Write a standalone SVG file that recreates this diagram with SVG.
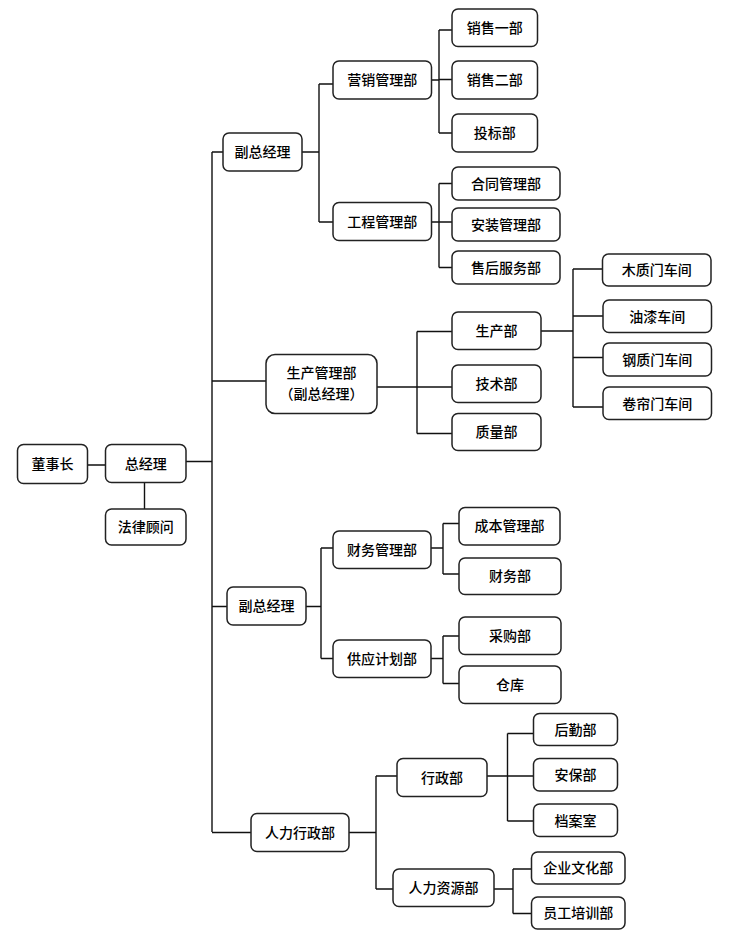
<svg xmlns="http://www.w3.org/2000/svg" width="730" height="938" viewBox="0 0 730 938">
<style>
.b{fill:#fff;stroke:#222;stroke-width:1.5}
.t{font-family:"Noto Sans CJK SC","Noto Sans",sans-serif;font-size:14px;fill:#000;text-anchor:middle;font-weight:500}
.c{fill:none;stroke:#111;stroke-width:1.4}
</style>
<rect width="730" height="938" fill="#fff"/>
<g id="connectors" class="c">
<path d="M212 152V832M212 152H223M212 381H266M186 461.5H212M212 606.5H227M212 832.5H251M87.5 465H105.5M144.5 482.5V509"/>
<path d="M302 152H319M319 84V222M319 84H333M319 222H333"/>
<path d="M431.5 80H439M439 30V133M439 30H452M439 79.5H452M439 133H452"/>
<path d="M431.5 222H439M439 183.5V267.5M439 183.5H452M439 222H452M439 267.5H452"/>
<path d="M377 387H417M417 331.5V433.5M417 331.5H452M417 387H452M417 433.5H452"/>
<path d="M541 331H573M573 269V407M573 269H602.5M573 316H603M573 357.5H603M573 407H603"/>
<path d="M306 606.5H321M321 548V658.5M321 548H333M321 658.5H333"/>
<path d="M431 548H443M443 523.5V574M443 523.5H459M443 574H459"/>
<path d="M431 658.5H443M443 636V683.5M443 636H459M443 683.5H459"/>
<path d="M349 832.5H376M376 776V889M376 776H397M376 889H393"/>
<path d="M487 776H507.5M507.5 733.5V821M507.5 733.5H533.5M507.5 776H533.5M507.5 821H533.5"/>
<path d="M494 889H513M513 869V913.5M513 869H531.5M513 913.5H531.5"/>
</g>
<g id="n_dsz"><rect class="b" x="17.5" y="444.5" width="70" height="39" rx="6"/><text class="t" x="52.5" y="469">董事长</text></g>
<g id="n_zjl"><rect class="b" x="105.5" y="444.5" width="80.5" height="38" rx="6"/><text class="t" x="145.7" y="468.5">总经理</text></g>
<g id="n_flgw"><rect class="b" x="105.5" y="509" width="80.5" height="36" rx="6"/><text class="t" x="145.7" y="532">法律顾问</text></g>
<g id="n_fzjl1"><rect class="b" x="223" y="133" width="79" height="38" rx="6"/><text class="t" x="262.5" y="157">副总经理</text></g>
<g id="n_yxglb"><rect class="b" x="333" y="61" width="98.5" height="38" rx="6"/><text class="t" x="382.2" y="85">营销管理部</text></g>
<g id="n_gcglb"><rect class="b" x="333" y="202.5" width="98.5" height="38" rx="6"/><text class="t" x="382.2" y="226.5">工程管理部</text></g>
<g id="n_xs1"><rect class="b" x="452" y="9" width="85.5" height="37.5" rx="6"/><text class="t" x="494.7" y="32.5">销售一部</text></g>
<g id="n_xs2"><rect class="b" x="452" y="61" width="85.5" height="38" rx="6"/><text class="t" x="494.7" y="85">销售二部</text></g>
<g id="n_tbb"><rect class="b" x="452" y="114" width="85.5" height="38" rx="6"/><text class="t" x="494.7" y="138">投标部</text></g>
<g id="n_htgl"><rect class="b" x="452" y="167" width="108" height="33" rx="6"/><text class="t" x="506" y="188.5">合同管理部</text></g>
<g id="n_azgl"><rect class="b" x="452" y="208" width="108" height="33" rx="6"/><text class="t" x="506" y="229.5">安装管理部</text></g>
<g id="n_shfw"><rect class="b" x="452" y="251" width="108" height="33" rx="6"/><text class="t" x="506" y="272.5">售后服务部</text></g>
<g id="n_scgl"><rect class="b" x="266" y="354.5" width="111" height="59" rx="9"/><text class="t" x="321.5" y="378">生产管理部</text><text class="t" x="321.5" y="399">（副总经理）</text></g>
<g id="n_scb"><rect class="b" x="452" y="312" width="89" height="37.5" rx="6"/><text class="t" x="496.5" y="335.5">生产部</text></g>
<g id="n_jsb"><rect class="b" x="452" y="365" width="89" height="37.5" rx="6"/><text class="t" x="496.5" y="388.5">技术部</text></g>
<g id="n_zlb"><rect class="b" x="452" y="413.5" width="89" height="37" rx="6"/><text class="t" x="496.5" y="437">质量部</text></g>
<g id="n_mzm"><rect class="b" x="602.5" y="254" width="108.5" height="32" rx="6"/><text class="t" x="656.7" y="275">木质门车间</text></g>
<g id="n_yq"><rect class="b" x="603" y="300" width="108.5" height="32.5" rx="6"/><text class="t" x="657.2" y="321.5">油漆车间</text></g>
<g id="n_gzm"><rect class="b" x="603" y="343" width="108.5" height="33" rx="6"/><text class="t" x="657.2" y="364.5">钢质门车间</text></g>
<g id="n_jlm"><rect class="b" x="603" y="387" width="108.5" height="32.5" rx="6"/><text class="t" x="657.2" y="408.5">卷帘门车间</text></g>
<g id="n_fzjl2"><rect class="b" x="227" y="587" width="79" height="38" rx="6"/><text class="t" x="266.5" y="611">副总经理</text></g>
<g id="n_cwgl"><rect class="b" x="333" y="531" width="98" height="37.5" rx="6"/><text class="t" x="382" y="554.5">财务管理部</text></g>
<g id="n_gyjh"><rect class="b" x="333" y="640" width="98" height="37.5" rx="6"/><text class="t" x="382" y="663.5">供应计划部</text></g>
<g id="n_cbgl"><rect class="b" x="459" y="507.5" width="101" height="37.5" rx="6"/><text class="t" x="509.5" y="531">成本管理部</text></g>
<g id="n_cwb"><rect class="b" x="459" y="558" width="102" height="36.5" rx="6"/><text class="t" x="510" y="581">财务部</text></g>
<g id="n_cgb"><rect class="b" x="459" y="617" width="102" height="37.5" rx="6"/><text class="t" x="510" y="640.5">采购部</text></g>
<g id="n_ck"><rect class="b" x="459" y="666" width="102" height="37.5" rx="6"/><text class="t" x="510" y="689.5">仓库</text></g>
<g id="n_rlxz"><rect class="b" x="251" y="813.5" width="98" height="38" rx="6"/><text class="t" x="300" y="837.5">人力行政部</text></g>
<g id="n_xzb"><rect class="b" x="397" y="758.5" width="90" height="38" rx="6"/><text class="t" x="442" y="782.5">行政部</text></g>
<g id="n_rlzy"><rect class="b" x="393" y="869" width="101" height="37.5" rx="6"/><text class="t" x="443.5" y="892.5">人力资源部</text></g>
<g id="n_hqb"><rect class="b" x="533.5" y="713.5" width="84" height="32" rx="6"/><text class="t" x="575.5" y="734.5">后勤部</text></g>
<g id="n_abb"><rect class="b" x="533.5" y="758.5" width="84" height="32.5" rx="6"/><text class="t" x="575.5" y="780">安保部</text></g>
<g id="n_das"><rect class="b" x="533.5" y="804" width="84" height="32.5" rx="6"/><text class="t" x="575.5" y="825.5">档案室</text></g>
<g id="n_qywh"><rect class="b" x="531.5" y="852" width="93.5" height="32" rx="6"/><text class="t" x="578.2" y="873">企业文化部</text></g>
<g id="n_ygpx"><rect class="b" x="531.5" y="897" width="93.5" height="32" rx="6"/><text class="t" x="578.2" y="918">员工培训部</text></g>
</svg>
